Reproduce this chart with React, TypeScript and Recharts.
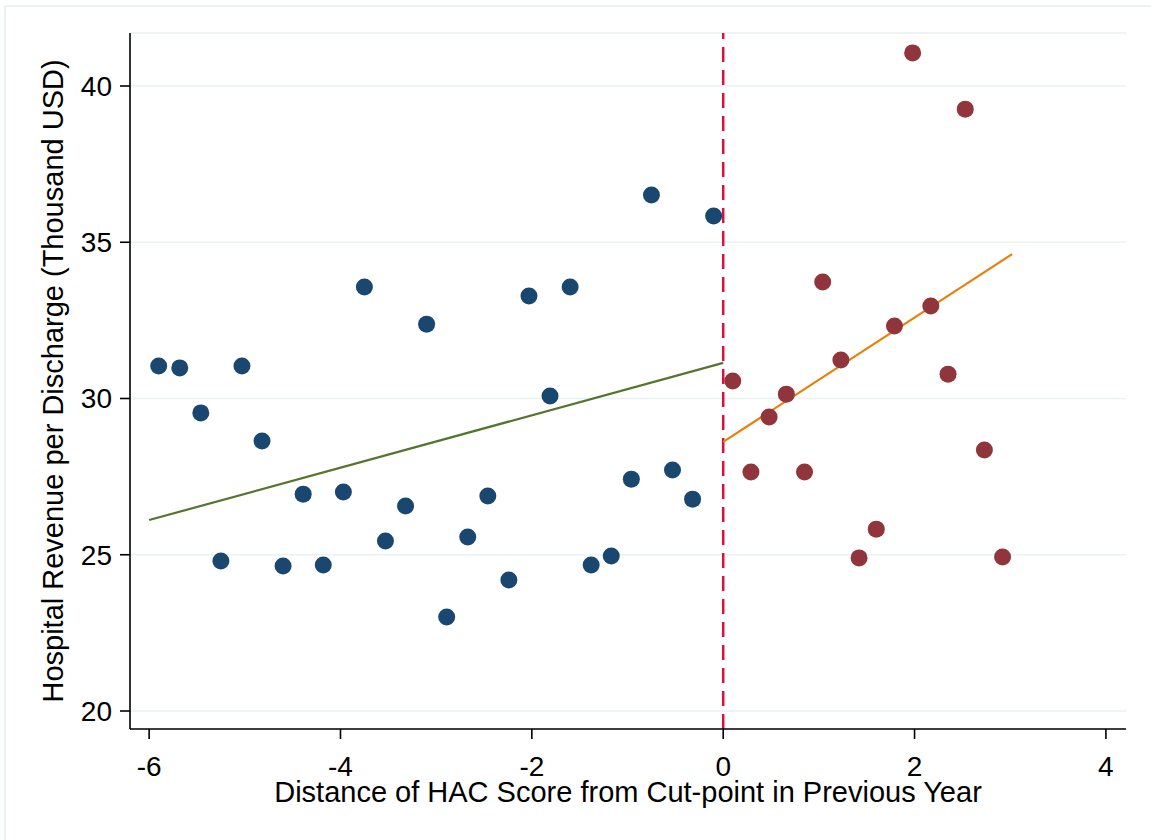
import React from 'react';
import { ComposedChart, Scatter, XAxis, YAxis, CartesianGrid, ReferenceLine, Label } from 'recharts';

const leftX = [-5.90, -5.68, -5.46, -5.25, -5.03, -4.82, -4.60, -4.39, -4.18, -3.97, -3.75, -3.53, -3.32, -3.10, -2.89, -2.67, -2.46, -2.24, -2.03, -1.81, -1.60, -1.38, -1.17, -0.96, -0.75, -0.53, -0.32, -0.10];
const leftY = [31.04, 30.98, 29.54, 24.80, 31.04, 28.64, 24.64, 26.94, 24.67, 27.01, 33.57, 25.44, 26.56, 32.38, 23.01, 25.57, 26.88, 24.19, 33.28, 30.08, 33.57, 24.67, 24.96, 27.42, 36.51, 27.71, 26.78, 35.84];
const rightX = [0.10, 0.29, 0.48, 0.66, 0.85, 1.04, 1.23, 1.42, 1.60, 1.79, 1.98, 2.17, 2.35, 2.53, 2.73, 2.92];
const rightY = [30.56, 27.65, 29.41, 30.14, 27.65, 33.73, 31.23, 24.90, 25.82, 32.32, 41.06, 32.96, 30.78, 39.26, 28.35, 24.93];
const fitLeft = [{ x: -6, y: 26.11 }, { x: 0, y: 31.14 }];
const fitRight = [{ x: 0, y: 28.61 }, { x: 3.02, y: 34.62 }];
const xTicks = [-6, -4, -2, 0, 2, 4];
const yTicks = [20, 25, 30, 35, 40];
const cutoff = 0;

const leftData = leftX.map((x, i) => ({ x, y: leftY[i] }));
const rightData = rightX.map((x, i) => ({ x, y: rightY[i] }));

const FONT = '"Liberation Sans", Arial, Helvetica, sans-serif';
const BLUE = '#1a476f';
const MAROON = '#90353b';
const GREEN = '#55752f';
const ORANGE = '#e8800a';
const CRIMSON = '#d3123f';
const GRID = '#eaf2f3';

const dot = (color: string) => (props: any) => (
  <circle cx={props.cx} cy={props.cy} r={8.5} fill={color} />
);

const XTitle = (props: any) => {
  const vb = props.viewBox || { x: 130, y: 729, width: 996 };
  return (
    <text x={vb.x + vb.width / 2} y={vb.y + 73} textAnchor="middle" fontSize={29} fontFamily={FONT} fill="#000">
      Distance of HAC Score from Cut-point in Previous Year
    </text>
  );
};

const YTitle = (props: any) => {
  const vb = props.viewBox || { x: 0, y: 33, width: 130, height: 696 };
  const cx = vb.x + 63;
  const cy = vb.y + vb.height / 2;
  return (
    <text x={cx} y={cy} transform={`rotate(-90, ${cx}, ${cy})`} textAnchor="middle" fontSize={29} fontFamily={FONT} fill="#000">
      Hospital Revenue per Discharge (Thousand USD)
    </text>
  );
};

export default function App() {
  return (
    <div style={{ position: 'fixed', left: 0, top: 0, width: 1151, height: 840, overflow: 'hidden', background: '#fff' }}>
      <div style={{ position: 'absolute', left: 4, top: 5, width: 1300, height: 1000, border: `2px solid ${GRID}` }} />
      <div style={{ position: 'absolute', left: 0, top: 0 }}>
        <ComposedChart width={1151} height={840} margin={{ top: 33, right: 25, left: 0, bottom: 31 }}>
          <CartesianGrid vertical={false} stroke={GRID} strokeWidth={1.5} />
          <XAxis
            type="number"
            dataKey="x"
            domain={[-6.2, 4.21]}
            ticks={xTicks}
            allowDataOverflow
            height={80}
            tickSize={10}
            tickMargin={17}
            axisLine={{ stroke: '#000', strokeWidth: 1.6 }}
            tickLine={{ stroke: '#000', strokeWidth: 1.6 }}
            tick={{ fill: '#000', fontSize: 28, fontFamily: FONT }}
          >
            <Label content={XTitle} />
          </XAxis>
          <YAxis
            type="number"
            dataKey="y"
            domain={[19.424, 41.696]}
            ticks={yTicks}
            allowDataOverflow
            width={130}
            tickSize={10}
            tickMargin={8}
            axisLine={{ stroke: '#000', strokeWidth: 1.6 }}
            tickLine={{ stroke: '#000', strokeWidth: 1.6 }}
            tick={{ fill: '#000', fontSize: 28, fontFamily: FONT }}
          >
            <Label content={YTitle} />
          </YAxis>
          <Scatter data={leftData} dataKey="y" shape={dot(BLUE)} isAnimationActive={false} />
          <Scatter data={rightData} dataKey="y" shape={dot(MAROON)} isAnimationActive={false} />
          <ReferenceLine x={cutoff} stroke={CRIMSON} strokeWidth={2.5} strokeDasharray="15 8" />
          <ReferenceLine segment={fitLeft} stroke={GREEN} strokeWidth={2.2} />
          <ReferenceLine segment={fitRight} stroke={ORANGE} strokeWidth={2.2} />
        </ComposedChart>
      </div>
    </div>
  );
}
